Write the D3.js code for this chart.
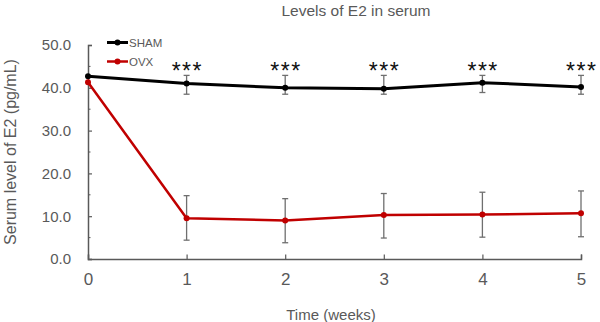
<!DOCTYPE html>
<html>
<head>
<meta charset="utf-8">
<script src="https://cdn.jsdelivr.net/npm/d3@7"></script>
<style>
  body { margin: 0; background: #fff; }
  text { font-family: Arial, "Liberation Sans", sans-serif; }
</style>
</head>
<body>
<div class="chart"></div>
<script>
var svgWidth = 600;
var svgHeight = 322;

// data
var weeks = [0, 1, 2, 3, 4, 5];
var shamMean = [42.7, 41.0, 40.0, 39.8, 41.2, 40.2];
var shamUpper = [null, 42.9, 42.9, 42.9, 42.9, 42.9];
var shamLower = [null, 38.5, 38.5, 38.5, 38.9, 38.5];
var ovxMean = [41.3, 9.5, 9.0, 10.3, 10.4, 10.7];
var ovxUpper = [null, 14.8, 14.1, 15.3, 15.6, 15.9];
var ovxLower = [null, 4.4, 3.8, 4.9, 5.1, 5.2];
var yTicks = [0, 10, 20, 30, 40, 50];
var yMinorTicks = [5, 15, 25, 35, 45];
var starLabels = ["", "***", "***", "***", "***", "***"];

var series = [
  { name: "SHAM", color: "#000000", width: 3, mean: shamMean, up: shamUpper, lo: shamLower },
  { name: "OVX", color: "#c00000", width: 2.5, mean: ovxMean, up: ovxUpper, lo: ovxLower }
];

var svg = d3.select(".chart")
  .append("svg")
  .attr("width", svgWidth)
  .attr("height", svgHeight);

var xScale = d3.scaleLinear().domain([0, 5]).range([88, 581]);
var yScale = d3.scaleLinear().domain([0, 50]).range([259, 45]);

var axisColor = "#595959";

// title
svg.append("text")
  .attr("x", 356)
  .attr("y", 16)
  .attr("text-anchor", "middle")
  .attr("font-size", 15.5)
  .attr("fill", axisColor)
  .text("Levels of E2 in serum");

// y axis (ticks pointing inward)
var leftAxis = d3.axisLeft(yScale)
  .tickValues(yTicks)
  .tickSize(-4)
  .tickPadding(17)
  .tickFormat(d3.format(".1f"));

var yAxis = svg.append("g")
  .attr("transform", `translate(${xScale(0)},0)`)
  .call(leftAxis);

yAxis.select(".domain").attr("stroke", axisColor).attr("stroke-width", 1.5);
yAxis.selectAll(".tick line").attr("stroke", axisColor).attr("stroke-width", 1.2);
yAxis.selectAll(".tick text")
  .attr("fill", axisColor)
  .attr("font-size", 15)
  .attr("font-family", "Arial, 'Liberation Sans', sans-serif");

svg.append("g")
  .selectAll("line")
  .data(yMinorTicks)
  .enter()
  .append("line")
  .attr("x1", xScale(0))
  .attr("x2", xScale(0) + 2.5)
  .attr("y1", d => yScale(d))
  .attr("y2", d => yScale(d))
  .attr("stroke", axisColor)
  .attr("stroke-width", 1);

// x axis
var bottomAxis = d3.axisBottom(xScale)
  .tickValues(weeks)
  .tickSize(-4.5)
  .tickPadding(14)
  .tickFormat(d3.format("d"));

var xAxis = svg.append("g")
  .attr("transform", `translate(0,${yScale(0)})`)
  .call(bottomAxis);

xAxis.select(".domain").attr("stroke", axisColor).attr("stroke-width", 1.5);
xAxis.selectAll(".tick line").attr("stroke", axisColor).attr("stroke-width", 1.2);
xAxis.selectAll(".tick text")
  .attr("fill", axisColor)
  .attr("font-size", 17)
  .attr("font-family", "Arial, 'Liberation Sans', sans-serif");

// axis titles
svg.append("text")
  .attr("x", 331)
  .attr("y", 320)
  .attr("text-anchor", "middle")
  .attr("font-size", 15)
  .attr("fill", axisColor)
  .text("Time (weeks)");

svg.append("text")
  .attr("transform", "rotate(-90)")
  .attr("x", -152)
  .attr("y", 16)
  .attr("text-anchor", "middle")
  .attr("font-size", 16)
  .attr("fill", axisColor)
  .text("Serum level of E2 (pg/mL)");

// lines
var line = d3.line()
  .x((d, i) => xScale(weeks[i]))
  .y(d => yScale(d));

series.forEach(s => {
  svg.append("path")
    .datum(s.mean)
    .attr("d", line)
    .attr("fill", "none")
    .attr("stroke", s.color)
    .attr("stroke-width", s.width)
    .attr("stroke-linejoin", "round");

  // error bars
  var idx = weeks.map((w, i) => i).filter(i => s.up[i] != null);
  var eb = svg.append("g")
    .selectAll("g")
    .data(idx)
    .enter()
    .append("g")
    .attr("stroke", "#6f6f6f")
    .attr("stroke-width", 1.3);

  eb.append("line")
    .attr("x1", i => xScale(weeks[i]))
    .attr("x2", i => xScale(weeks[i]))
    .attr("y1", i => yScale(s.up[i]))
    .attr("y2", i => yScale(s.lo[i]));
  eb.append("line")
    .attr("x1", i => xScale(weeks[i]) - 3)
    .attr("x2", i => xScale(weeks[i]) + 3)
    .attr("y1", i => yScale(s.up[i]))
    .attr("y2", i => yScale(s.up[i]));
  eb.append("line")
    .attr("x1", i => xScale(weeks[i]) - 3)
    .attr("x2", i => xScale(weeks[i]) + 3)
    .attr("y1", i => yScale(s.lo[i]))
    .attr("y2", i => yScale(s.lo[i]));

  svg.append("g")
    .selectAll("circle")
    .data(s.mean)
    .enter()
    .append("circle")
    .attr("cx", (d, i) => xScale(weeks[i]))
    .attr("cy", d => yScale(d))
    .attr("r", 3)
    .attr("fill", s.color);
});

// significance stars
svg.append("g")
  .selectAll("text")
  .data(starLabels)
  .enter()
  .append("text")
  .attr("x", (d, i) => xScale(weeks[i]) + 0.75)
  .attr("y", 78.5)
  .attr("text-anchor", "middle")
  .attr("font-size", 23)
  .attr("letter-spacing", 1.5)
  .attr("fill", "#111")
  .text(d => d);

// legend
var legend = svg.append("g");
series.forEach((s, i) => {
  var ly = 42.5 + i * 19;
  legend.append("line")
    .attr("x1", 107).attr("x2", 128)
    .attr("y1", ly).attr("y2", ly)
    .attr("stroke", s.color)
    .attr("stroke-width", s.width);
  legend.append("circle")
    .attr("cx", 117.5).attr("cy", ly)
    .attr("r", 3)
    .attr("fill", s.color);
  legend.append("text")
    .attr("x", 129)
    .attr("y", ly + 4)
    .attr("font-size", 11.5)
    .attr("fill", axisColor)
    .text(s.name);
});
</script>
</body>
</html>
